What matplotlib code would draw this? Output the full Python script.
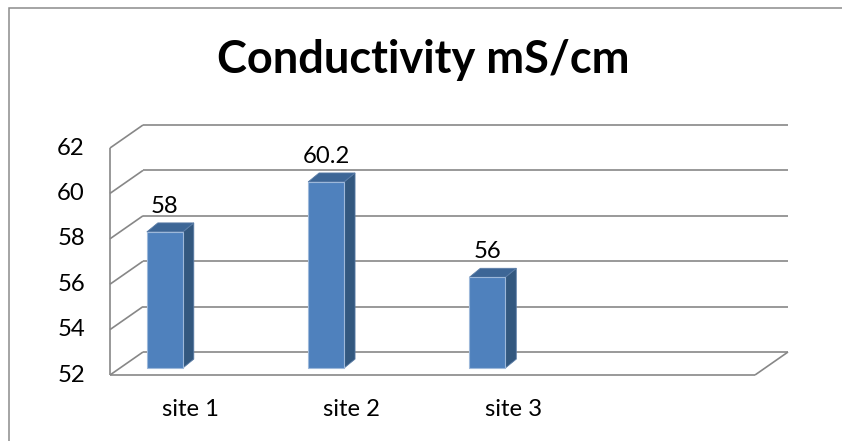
import matplotlib.pyplot as plt
from matplotlib.patches import Polygon, Rectangle

# chart data
sites = ['site 1', 'site 2', 'site 3']
conductivity = [58, 60.2, 56]
y_ticks = [52, 54, 56, 58, 60, 62]
n_slots = 4          # the category axis leaves room for one more site

# oblique 3-D look: pixel scales of the front plane and the depth offset
px_per_cat = 161.25
px_per_unit = 22.7
depth_px = (33, 23)          # full wall depth
bar_front = 0.30             # bar front face position in wall depth
bar_depth_px = (11, 9)       # how far the side/top faces reach back
bar_left = 0.167
bar_width = 0.223

W, H = 842, 441
x0_px, y0_px = 110, 375      # front-plane origin (category 0, value 52)

fig = plt.figure(figsize=(W / 100, H / 100), dpi=100)
ax = fig.add_axes([0, 0, 1, 1])
ax.set_xlim(-x0_px / px_per_cat, (W - x0_px) / px_per_cat)
ax.set_ylim(52 - (H - y0_px) / px_per_unit, 52 + y0_px / px_per_unit)
ax.axis('off')

ddx = depth_px[0] / px_per_cat
ddy = depth_px[1] / px_per_unit


def proj(x, v, d):
    """front-plane coords shifted back by depth d (0..1)"""
    return x + d * ddx, v + d * ddy


grid_kw = dict(color='#878787', lw=1.2, solid_capstyle='butt', zorder=1)
font_kw = dict(fontsize=17.2, fontfamily='Lato', color='black')

# back wall gridlines and left wall diagonals
for v in y_ticks:
    xa, ya = proj(0, v, 1)
    xb, yb = proj(n_slots, v, 1)
    ax.plot([xa, xb], [ya, yb], **grid_kw)
    ax.plot([0, xa], [v, ya], **grid_kw)

# left wall front edge and floor
ax.plot([0, 0], [y_ticks[0], y_ticks[-1]], **grid_kw)
ax.plot([0, n_slots], [52, 52], **grid_kw)
xr, yr = proj(n_slots, 52, 1)
ax.plot([n_slots, xr], [52, yr], **grid_kw)

# value axis labels
for v in y_ticks:
    ax.text(-25 / px_per_cat, v, str(v), ha='right', va='center', **font_kw)

# category labels
for i, s in enumerate(sites):
    ax.text(i + 0.5, 52 - 34 / px_per_unit, s, ha='center', va='center', **font_kw)

# bars
bdx = bar_depth_px[0] / px_per_cat
bdy = bar_depth_px[1] / px_per_unit
for i, val in enumerate(conductivity):
    xl, yb = proj(i + bar_left, 52, bar_front)
    xr_ = xl + bar_width
    yt = yb + (val - 52)
    front = [(xl, yb), (xr_, yb), (xr_, yt), (xl, yt)]
    side = [(xr_, yb), (xr_ + bdx, yb + bdy), (xr_ + bdx, yt + bdy), (xr_, yt)]
    top = [(xl, yt), (xr_, yt), (xr_ + bdx, yt + bdy), (xl + bdx, yt + bdy)]
    ax.add_patch(Polygon(side, closed=True, fc='#33587f', ec='#5a7ca6', lw=0.6, zorder=3))
    ax.add_patch(Polygon(top, closed=True, fc='#3d6696', ec='#5a7ca6', lw=0.6, zorder=3))
    ax.add_patch(Polygon(front, closed=True, fc='#4f81bd', ec='#9db8da', lw=0.8, zorder=4))
    ax.text(xl + bar_width / 2, yt + bdy + 10 / px_per_unit, f'{val:g}',
            ha='center', va='baseline', zorder=5, **font_kw)

fig.text(423 / W, 1 - 60 / H, 'Conductivity mS/cm', ha='center', va='center',
         fontsize=32.5, fontweight='bold', fontfamily='Lato')

# chart area border, running off the right and bottom edges
fig.patches.append(Rectangle((8.5 / W, -0.2), 1.2, 1.2 - 7.5 / H,
                             transform=fig.transFigure,
                             fill=False, ec='#8c8c8c', lw=1.1))

fig.savefig('out.png', dpi=100)
